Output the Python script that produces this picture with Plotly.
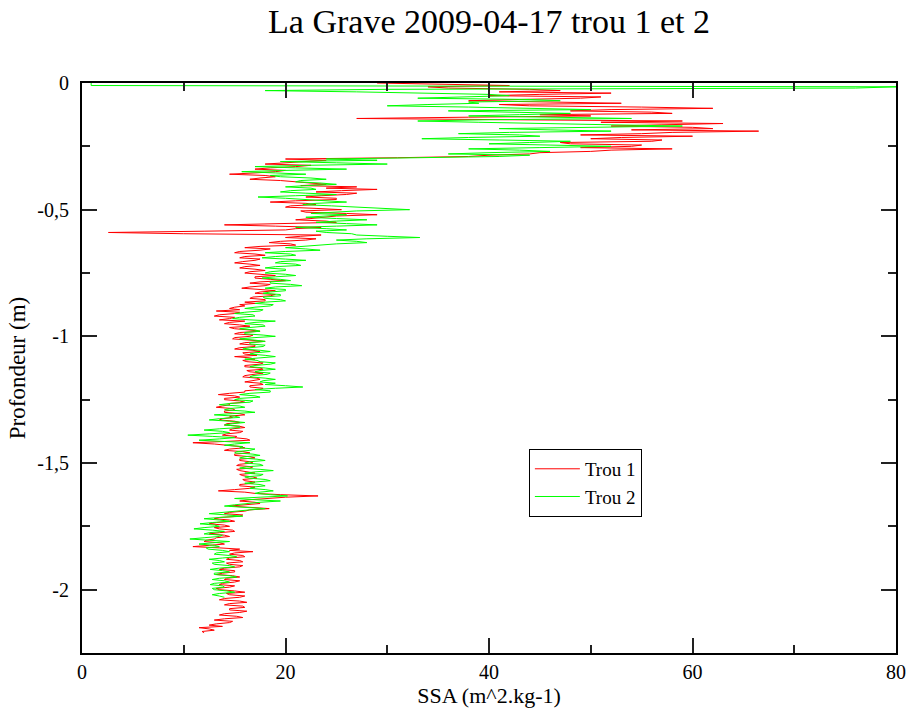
import numpy as np
import plotly.graph_objects as go

# Sampling step of the depth profiles (m)
DEPTH_STEP = 0.005

# SSA (m^2/kg) of hole 1, from the surface downwards, one value per DEPTH_STEP
ssa_trou1 = [
    29, 38, 42, 34, 36, 44, 47, 41, 52, 45,
    40, 51, 49, 43, 38, 46, 53, 41, 44, 55,
    62, 52, 48, 56, 58, 45, 50, 38, 27, 42,
    59, 51, 63, 57, 52, 60, 62, 54, 66.5, 58,
    55, 49, 60, 53, 50, 57, 56, 47, 48, 55,
    54, 49, 58, 52, 50, 45, 44, 40, 38, 31,
    20, 24, 22, 19, 18, 22.5, 21, 18.5, 17, 20,
    19, 17, 14.5, 18, 19, 17.5, 16.5, 19.5, 21, 23,
    24, 21.5, 27, 24, 29, 25.5, 23, 27, 26, 23.5,
    22, 25, 25, 21, 18.5, 22, 23, 20.5, 20, 23,
    25.5, 21.5, 22, 26, 29, 25, 24, 22.5, 21, 24,
    25, 20, 14, 19, 23.5, 21, 20, 12, 2.6, 10,
    23.5, 21.5, 20, 23, 22, 19.5, 18.4, 20.5, 21, 17.5,
    16, 18.5, 17.5, 15.5, 15, 17, 18, 16, 15.5, 17.5,
    17, 15.8, 15, 16.5, 17.5, 16, 15.5, 17, 18, 16.5,
    16, 17.5, 19, 17, 17, 18.5, 20, 17.5, 16.5, 18.5,
    18, 16.5, 15.7, 17.5, 19, 17.5, 17, 19, 18.5, 16.8,
    16.5, 18, 18, 16, 17, 15.5, 16, 15, 14.5, 15.5,
    13.2, 15.5, 15, 13.5, 13, 15, 14.5, 13.5, 16, 14.5,
    14, 15.5, 16.5, 14.5, 15, 16.5, 17.5, 15.5, 15, 16.8,
    16.5, 15, 14.8, 16.5, 18, 16, 15.5, 17, 17, 15.5,
    15, 16.8, 17.5, 15.8, 16, 17.2, 15, 16.5, 17, 15.8,
    16.2, 17.8, 17.5, 16, 16, 17.5, 17.8, 16.2, 16.5, 17.8,
    17, 16, 15.8, 17.2, 17.5, 16.5, 16, 17.5, 17.8, 16.5,
    16.5, 17.8, 17.5, 16, 16, 14.5, 13.4, 15, 15.5, 14,
    14, 15.5, 16, 14.5, 14.5, 13.8, 13.2, 14.8, 15, 14,
    14, 15.5, 16, 14.5, 14.8, 13.8, 13.5, 15, 15.5, 14.2,
    14, 15.5, 16, 14.8, 14.5, 15.8, 15.5, 14.2, 13.8, 15.2,
    15, 16.2, 16.5, 14, 10.9, 13, 14.5, 15.5, 16, 14.5,
    14, 15.8, 16.5, 15, 15, 16.5, 17, 15.5, 15.5, 16.5,
    16.8, 15.5, 15.2, 16.8, 16.5, 15.2, 15.5, 16.5, 17, 15.5,
    15.8, 16.8, 17.2, 15.8, 16, 17, 16.8, 15.5, 15.5, 17,
    16.5, 15, 13.4, 16, 17, 19.5, 23.2, 20, 18, 16.5,
    15.5, 17, 17.5, 15.5, 14.5, 16.5, 18.4, 16.5, 16, 14.5,
    14, 15.8, 15.5, 13.5, 13, 14.5, 15, 13.2, 12.5, 14,
    14.5, 13, 13.5, 14.8, 15, 13.5, 12.5, 14, 14.5, 13.2,
    13, 12.2, 12, 13.5, 14, 12.5, 10.9, 13.5, 15.5, 14.5,
    16.8, 15, 14.5, 15.8, 16, 14.5, 14.2, 15.5, 15.8, 14.2,
    14.5, 15.8, 15.5, 14, 13.5, 15, 15, 13.8, 13.2, 14.8,
    15.5, 14.2, 14, 15.5, 15, 13.8, 13.5, 15, 14.5, 13.2,
    13.5, 15, 16, 14.2, 14.5, 16, 15.5, 14, 13.5, 15.5,
    16.2, 14.5, 14, 15.8, 16, 14.5, 14.5, 16.2, 15.5, 14,
    13.5, 15.2, 15.8, 14, 13, 14.8, 14.5, 13.2, 12.5, 13.8,
    11.5, 12.5, 13, 11.8, 12,
]

# SSA (m^2/kg) of hole 2, from the surface downwards, one value per DEPTH_STEP
ssa_trou2 = [
    0.9, 0.9, 0.9, 80, 76, 30, 18, 27, 35, 40,
    42, 36, 33, 44, 47, 38, 39, 34, 30, 38,
    43, 50, 36, 41, 48, 43, 38, 46, 54, 40,
    33, 39, 44, 52, 59, 47, 41, 46, 52, 42,
    37, 43, 45, 38, 33.4, 41, 48, 44, 40, 46,
    52, 45, 38, 43, 46, 40, 36, 44, 41, 33,
    24, 29, 19.5, 25, 30, 22, 17, 21, 26, 20,
    15.7, 19, 22, 18.5, 19.5, 22.5, 24, 21.5, 21, 23.5,
    25, 22, 20, 22.5, 23, 20.5, 19.5, 22, 25, 21,
    17.3, 20, 22, 24.5, 26, 23, 21.7, 24.5, 27, 29,
    32.2, 27, 24, 22.5, 26, 23.5, 22, 25, 28, 25,
    23, 26, 29, 25, 21, 24, 26, 23, 24, 26.5,
    27, 30, 33.2, 28, 25, 27, 28, 25, 23, 21.5,
    20, 22, 23.4, 20, 18, 20.5, 21, 19, 17.7, 20,
    22, 19.5, 19, 21, 21.5, 19, 18, 20, 20, 18.5,
    18, 20, 21, 19, 17.7, 19.5, 20.5, 18.5, 18.5, 20.5,
    21.6, 19, 18, 20, 20, 18.5, 17.8, 19.5, 19.5, 17.8,
    18, 19.5, 20, 18, 17, 18.8, 18.5, 17, 16, 17.8,
    17.5, 16, 15, 16.8, 17, 15.5, 14.8, 16.5, 19, 17,
    16, 17.8, 18, 16.5, 15.5, 17, 17.5, 16, 16, 17.8,
    19, 17, 15.5, 17, 18, 16.5, 16.5, 18, 17.8, 16.5,
    15.8, 17.5, 18.5, 17, 16.5, 18, 19, 17.5, 16, 17.2,
    17.5, 19, 18.5, 17, 16.5, 18, 19, 17.5, 17, 18.5,
    18.2, 16.8, 16.5, 18, 19, 17.8, 17.5, 19, 18, 20,
    21.7, 19, 17, 18.5, 18.5, 16.5, 15.5, 17, 17.5, 15.5,
    15, 16.8, 16.5, 14.5, 13.5, 15.5, 16, 14.5, 14, 16,
    17, 14.8, 13, 15, 15.5, 13.5, 12.5, 14.5, 16, 14.8,
    14, 15.5, 15.5, 13.5, 12, 13.8, 14.5, 12.5, 10.4, 12.8,
    15, 13.5, 11.5, 14, 16.5, 15, 14, 15.8, 15.5, 17,
    16.5, 15.2, 15, 16.8, 17.5, 16, 15.5, 17.2, 18, 16.5,
    16, 17.5, 17.8, 16.2, 15.5, 17.5, 18.8, 17, 16, 17.8,
    17.5, 16, 16.5, 18, 18.5, 17, 16, 17.5, 18, 16.8,
    16.5, 18, 18.8, 17.5, 17, 18.5, 20.2, 17.5, 15, 17,
    19.5, 17.5, 16, 15, 14, 16, 18, 16.5, 15, 13.5,
    12.5, 14.2, 15.8, 13.5, 12, 13.5, 14.5, 12.8, 11.6, 13,
    13.5, 12, 11, 12.8, 14, 12.5, 12, 13.8, 13.5, 12,
    10.6, 12.5, 14.5, 12.8, 11.5, 13, 13.5, 12.2, 12.4, 13.8,
    14.5, 13.2, 13, 14.5, 15.2, 13.8, 12.5, 13.5, 14, 12.8,
    13, 14.5, 15, 13.5, 12.6, 13.8, 14.5, 13, 13, 14.5,
    15.2, 13.5, 12.8, 14, 14.5, 13, 12.6, 13.8, 14, 12.8,
    13, 14.2, 15, 13.5, 12.8, 13.5, 14,
]

series_names = ["Trou 1", "Trou 2"]
series_colors = ["#ff0000", "#00ff00"]

x_tick_vals = [0, 20, 40, 60, 80]
x_tick_text = ["0", "20", "40", "60", "80"]
y_tick_vals = [0, -0.5, -1, -1.5, -2]
y_tick_text = ["0", "-0,5", "-1", "-1,5", "-2"]

depth_trou1 = -np.arange(len(ssa_trou1)) * DEPTH_STEP
depth_trou2 = -np.arange(len(ssa_trou2)) * DEPTH_STEP

FONT = "Liberation Serif, Times New Roman, serif"

fig = go.Figure()
for ssa, depth, name, color in zip(
    [ssa_trou1, ssa_trou2], [depth_trou1, depth_trou2], series_names, series_colors
):
    fig.add_trace(
        go.Scatter(
            x=ssa,
            y=depth,
            mode="lines",
            name=name,
            line=dict(color=color, width=1),
        )
    )

axis_common = dict(
    showgrid=False,
    zeroline=False,
    showline=True,
    linecolor="black",
    linewidth=2,
    mirror="allticks",
    ticks="inside",
    ticklen=15,
    tickwidth=1.5,
    tickcolor="#222222",
    automargin=False,
    tickfont=dict(family=FONT, size=20, color="black"),
)

fig.update_xaxes(
    range=[0, 80],
    tickmode="array",
    tickvals=x_tick_vals,
    ticktext=x_tick_text,
    minor=dict(ticks="inside", ticklen=8, dtick=10, tickwidth=1.5, tickcolor="#222222"),
    title=dict(text="SSA (m^2.kg-1)", font=dict(family=FONT, size=22, color="black"), standoff=13),
    **axis_common,
)
fig.update_yaxes(
    range=[-2.25, 0],
    tickmode="array",
    tickvals=y_tick_vals,
    ticktext=y_tick_text,
    ticklabelstandoff=7,
    minor=dict(ticks="inside", ticklen=8, dtick=0.25, tickwidth=1.5, tickcolor="#222222"),
    title=dict(text="Profondeur (m)", font=dict(family=FONT, size=23, color="black"), standoff=5),
    **axis_common,
)

fig.update_layout(
    width=910,
    height=708,
    margin=dict(l=82, r=14, t=83, b=55, autoexpand=False),
    paper_bgcolor="white",
    plot_bgcolor="white",
    title=dict(
        text="La Grave 2009-04-17 trou 1 et 2",
        x=0.5,
        xref="paper",
        xanchor="center",
        y=0.97,
        yanchor="middle",
        font=dict(family=FONT, size=34, color="black"),
    ),
    legend=dict(
        x=0.549,
        y=0.358,
        xanchor="left",
        yanchor="top",
        bgcolor="white",
        bordercolor="black",
        borderwidth=1,
        font=dict(family=FONT, size=19, color="black"),
        itemwidth=45,
        tracegroupgap=0,
    ),
    showlegend=True,
)

fig.write_html("out.html")
